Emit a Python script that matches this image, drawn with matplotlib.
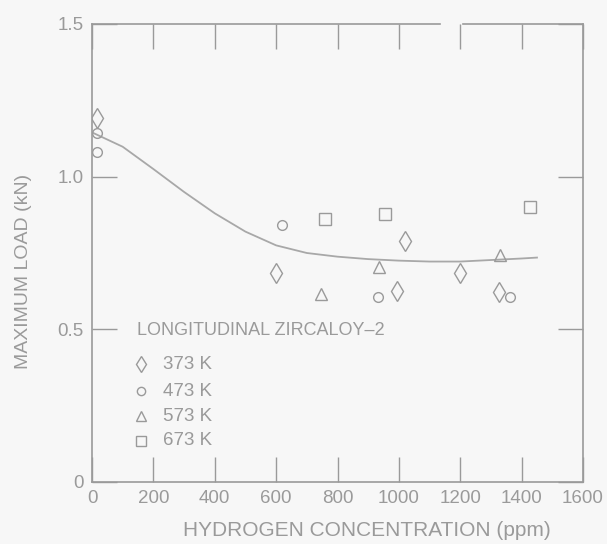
import numpy as np
import matplotlib.pyplot as plt

plt.rcParams['font.family'] = ['Liberation Sans', 'DejaVu Sans']

# measured maximum load (kN) vs hydrogen concentration (ppm), by test temperature
h373 = [15, 600, 994, 1021, 1200, 1325]
p373 = [1.193, 0.686, 0.627, 0.790, 0.683, 0.621]

h473 = [15, 15, 620, 933, 1363]
p473 = [1.144, 1.080, 0.843, 0.605, 0.605]

h573 = [747, 936, 1328]
p573 = [0.617, 0.703, 0.742]

h673 = [760, 956, 1428]
p673 = [0.862, 0.878, 0.902]

# hand-drawn trend line
curve_h = [0, 100, 200, 300, 400, 500, 600, 700, 800, 900, 1000, 1100, 1200, 1300, 1400, 1450]
curve_p = [1.145, 1.098, 1.025, 0.950, 0.880, 0.820, 0.775, 0.750, 0.738, 0.730, 0.725, 0.722, 0.722, 0.727, 0.732, 0.735]

xticks = [0, 200, 400, 600, 800, 1000, 1200, 1400, 1600]
yticks = [0, 0.5, 1.0, 1.5]
yticklabels = ['0', '0.5', '1.0', '1.5']

ink = '#9a9a9a'
bg = '#f7f7f7'

fig = plt.figure(figsize=(6.07, 5.44), dpi=100, facecolor=bg)
ax = fig.add_axes([92/607, 1-482/544, (583-92)/607, (482-24)/544])
ax.set_facecolor(bg)

ax.plot(curve_h, curve_p, color='#a8a8a8', lw=1.3)

mk = dict(linestyle='none', mfc='none', mec=ink, mew=1.0)
ax.plot(h373, p373, marker='d', ms=10, **mk)
ax.plot(h473, p473, marker='o', ms=7, **mk)
ax.plot(h573, p573, marker='^', ms=8, **mk)
ax.plot(h673, p673, marker='s', ms=8, **mk)

ax.set_xlim(0, 1600)
ax.set_ylim(0, 1.5)
ax.set_xticks(xticks)
ax.set_yticks(yticks)
ax.set_yticklabels(yticklabels)
ax.tick_params(direction='in', length=18, width=1.0, color=ink, labelcolor=ink,
               labelsize=13.5, top=True, right=True, pad=6)
for s in ax.spines.values():
    s.set_color(ink)
    s.set_linewidth(1.2)

# top frame line has a small break in it
ax.spines['top'].set_visible(False)
ax.plot([0, 0.709], [1, 1], transform=ax.transAxes, color=ink, lw=1.2, clip_on=False)
ax.plot([0.756, 1], [1, 1], transform=ax.transAxes, color=ink, lw=1.2, clip_on=False)

ax.set_xlabel('HYDROGEN CONCENTRATION (ppm)', color=ink, fontsize=15)
ax.xaxis.set_label_coords(0.56, -0.085)
ax.set_ylabel('MAXIMUM LOAD (kN)', color=ink, fontsize=14)
ax.yaxis.set_label_coords(-0.122, 0.46)

# legend block, lettered in the lower-left corner
ax.text(147, 0.497, 'LONGITUDINAL ZIRCALOY\u20132', color=ink, fontsize=13, va='center')
leg_labels = ['373 K', '473 K', '573 K', '673 K']
leg_markers = [('d', 10), ('o', 7), ('^', 8), ('s', 8)]
leg_y = [0.385, 0.298, 0.215, 0.135]
for lab, (m, s), yy in zip(leg_labels, leg_markers, leg_y):
    ax.plot([160], [yy], marker=m, ms=s * 0.85, **mk)
    ax.text(230, yy, lab, color=ink, fontsize=13.5, va='center')

fig.savefig('out.png', dpi=100, facecolor=bg)
